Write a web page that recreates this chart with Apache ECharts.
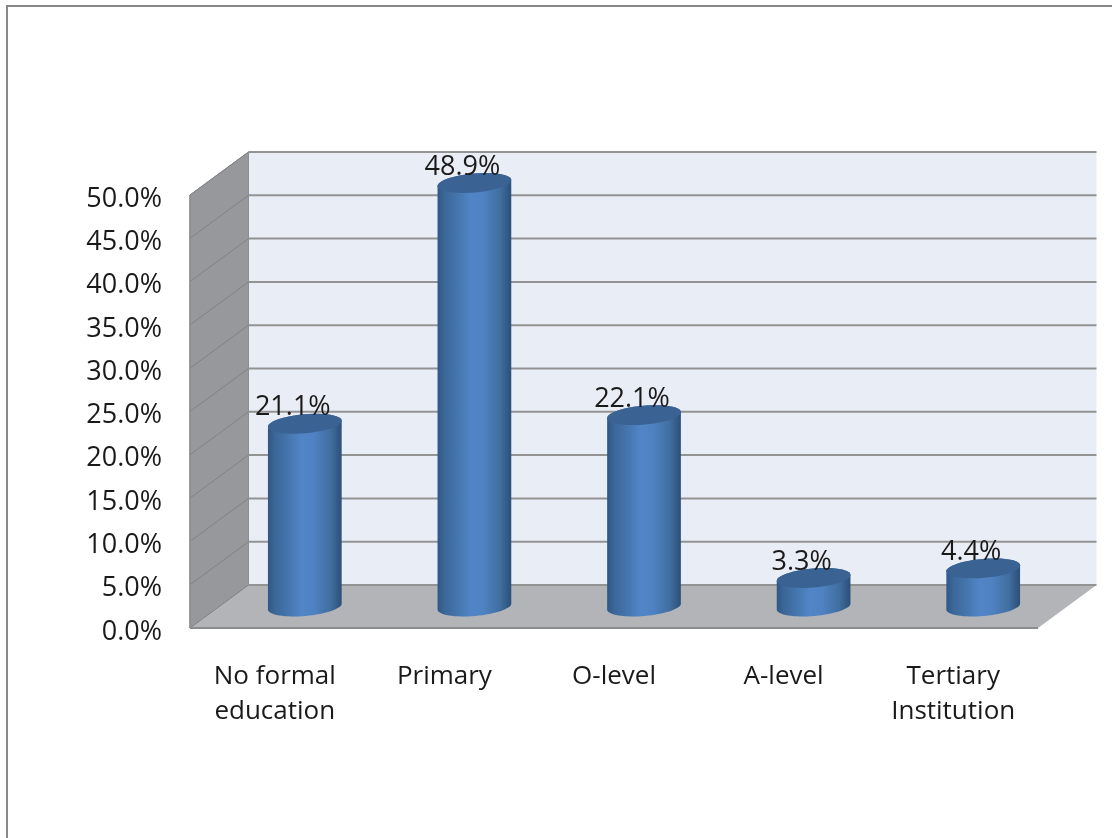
<!DOCTYPE html>
<html>
<head>
<meta charset="utf-8">
<style>html,body{margin:0;padding:0;background:#fff}#c{width:1112px;height:838px;filter:blur(0.4px)}</style>
<script src="https://cdn.jsdelivr.net/npm/echarts@6/dist/echarts.min.js"></script>
</head>
<body>
<div id="c"></div>
<script>
var categories = ['No formal\neducation', 'Primary', 'O-level', 'A-level', 'Tertiary\nInstitution'];
var shares = [21.1, 48.9, 22.1, 3.3, 4.4];
var yTicks = [0, 5, 10, 15, 20, 25, 30, 35, 40, 45, 50];

var FONT = 'Open Sans';
var DX = 58.5, DY = 43;          // oblique depth of the 3-D box
var BAR_DX = 30, BAR_DY = 21.5;  // cylinders stand mid-depth
var RX = 37, RY = 9.5, TILT = -5 * Math.PI / 180;

function ellipsePts(cx, cy, from, to, n) {
  var pts = [], c = Math.cos(TILT), s = Math.sin(TILT);
  for (var i = 0; i <= n; i++) {
    var t = from + (to - from) * i / n;
    var ex = RX * Math.cos(t), ey = RY * Math.sin(t);
    pts.push([cx + ex * c - ey * s, cy + ex * s + ey * c]);
  }
  return pts;
}

function renderBox(params, api) {
  var cs = params.coordSys;
  var L = cs.x, R = cs.x + cs.width;
  var y0 = api.coord([0, 0])[1], yT = api.coord([0, 50])[1];
  var kids = [];
  kids.push({type: 'polygon', shape: {points: [[L + DX, yT - DY], [R + DX, yT - DY], [R + DX, y0 - DY], [L + DX, y0 - DY]]}, style: {fill: '#e9edf6'}});
  kids.push({type: 'polygon', shape: {points: [[L, y0], [L + DX, y0 - DY], [L + DX, yT - DY], [L, yT]]}, style: {fill: '#96989b', stroke: '#8c8e90', lineWidth: 1}});
  kids.push({type: 'polygon', shape: {points: [[L, y0], [R, y0], [R + DX, y0 - DY], [L + DX, y0 - DY]]}, style: {fill: '#b2b4b8'}});
  yTicks.forEach(function (v) {
    var y = api.coord([0, v])[1];
    kids.push({type: 'line', shape: {x1: L, y1: y, x2: L + DX, y2: y - DY}, style: {stroke: '#808285', lineWidth: 1}});
    kids.push({type: 'line', shape: {x1: L + DX, y1: y - DY, x2: R + DX, y2: y - DY}, style: {stroke: '#939393', lineWidth: 2}});
  });
  kids.push({type: 'line', shape: {x1: L, y1: y0, x2: R, y2: y0}, style: {stroke: '#8c8c8c', lineWidth: 2}});
  kids.push({type: 'line', shape: {x1: L, y1: y0, x2: L, y2: yT}, style: {stroke: '#8c8c8c', lineWidth: 1.5}});
  return {type: 'group', children: kids};
}

function renderCylinder(params, api) {
  var base = api.coord([api.value(0), 0]);
  var top = api.coord([api.value(0), api.value(1)]);
  var cx = base[0] + BAR_DX, by = base[1] - BAR_DY, ty = top[1] - BAR_DY;
  var body = ellipsePts(cx, ty, Math.PI, 2 * Math.PI, 24).concat(ellipsePts(cx, by, 0, Math.PI, 32));
  var cap = ellipsePts(cx, ty, 0, 2 * Math.PI, 48);
  return {type: 'group', children: [
    {type: 'polygon', shape: {points: body}, style: {
      fill: new echarts.graphic.LinearGradient(0, 0, 1, 0, [
        {offset: 0, color: '#2f5886'},
        {offset: 0.1, color: '#3c6799'},
        {offset: 0.28, color: '#4576ae'},
        {offset: 0.45, color: '#5185c7'},
        {offset: 0.62, color: '#4f82c2'},
        {offset: 0.85, color: '#406e9f'},
        {offset: 1, color: '#2c4f78'}
      ])
    }},
    {type: 'polygon', shape: {points: cap}, style: {fill: '#3a6394'}},
    {type: 'text', style: {
      text: api.value(1).toFixed(1) + '%', x: cx - 12, y: ty - 16,
      align: 'center', verticalAlign: 'middle',
      font: '27px "' + FONT + '"', fill: '#1a1a1a'
    }}
  ]};
}

var chart = echarts.init(document.getElementById('c'), null, {renderer: 'canvas'});
chart.setOption({
  animation: false,
  backgroundColor: '#ffffff',
  graphic: [
    {type: 'line', silent: true, shape: {x1: 6, y1: 6, x2: 1112, y2: 6}, style: {stroke: '#888888', lineWidth: 2}},
    {type: 'line', silent: true, shape: {x1: 7, y1: 5, x2: 7, y2: 838}, style: {stroke: '#888888', lineWidth: 2}}
  ],
  grid: {left: 190, width: 848, top: 195, height: 433},
  xAxis: {
    type: 'category', data: categories,
    axisLine: {show: false}, axisTick: {show: false},
    axisLabel: {margin: 31, lineHeight: 35, color: '#1a1a1a', fontFamily: FONT, fontSize: 26, interval: 0}
  },
  yAxis: {
    type: 'value', min: 0, max: 50, interval: 5,
    axisLine: {show: false}, axisTick: {show: false}, splitLine: {show: false},
    axisLabel: {margin: 28, color: '#1a1a1a', fontFamily: FONT, fontSize: 27, verticalAlign: 'top', lineHeight: 8,
      formatter: function (v) { return v.toFixed(1) + '%'; }}
  },
  series: [
    {type: 'custom', renderItem: renderBox, data: [[0, 0]], z: 1, silent: true},
    {type: 'custom', renderItem: renderCylinder, z: 2, silent: true,
      encode: {x: 0, y: 1},
      data: shares.map(function (v, i) { return [i, v]; })}
  ]
});
</script>
</body>
</html>
